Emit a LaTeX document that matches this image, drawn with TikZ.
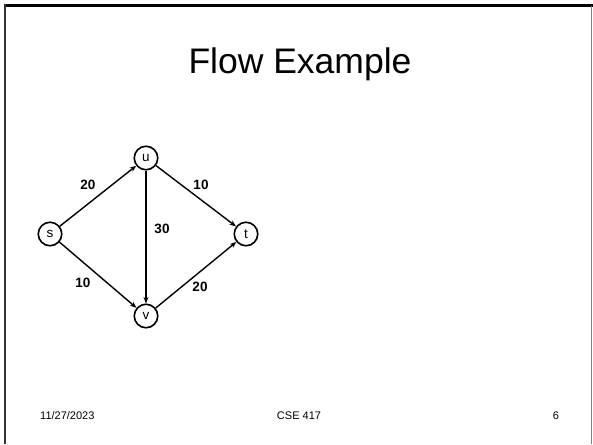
\documentclass[tikz,border=0pt]{standalone}
\usepackage{fontspec}
\setmainfont{Liberation Sans}
\usetikzlibrary{arrows.meta}
\begin{document}
\begin{tikzpicture}[x=1pt,y=-1pt,
  vert/.style={circle,draw,line width=1.6pt,minimum size=23.5pt,inner sep=0pt,font=\fontsize{13.5}{14}\selectfont},
  edge/.style={line width=1.4pt,-{Stealth[length=6.5pt,width=5pt]}},
  elabel/.style={inner sep=0pt,font=\fontsize{13.5}{14}\selectfont\bfseries},
  foot/.style={inner sep=0pt,font=\fontsize{11}{12}\selectfont}]
\useasboundingbox (0,0) rectangle (593,444);
% slide frame
\draw[line width=2.6pt] (4,5.3) -- (593,5.3);
\draw[line width=2.2pt, black!80] (5.2,4) -- (5.2,444);
\draw[line width=1pt, gray] (591.8,6.5) -- (591.8,444);
% title
\node[anchor=base,inner sep=0pt,font=\fontsize{35.5}{38}\selectfont] (title) at (300,73) {Flow Example};
% graph
\node[vert] (s) at (50,234) {s};
\node[vert] (u) at (146,158) {u};
\node[vert] (v) at (146,316) {v};
\node[vert] (t) at (246,234) {t};
\draw[edge] (s) -- (u);
\draw[edge] (s) -- (v);
\draw[edge] (u) -- (t);
\draw[edge] (v) -- (t);
\draw[edge] (u) -- (v);
\node[elabel] (l1) at (88,185) {20};
\node[elabel] (l2) at (201,185) {10};
\node[elabel] (l3) at (162,229) {30};
\node[elabel] (l4) at (83,283) {10};
\node[elabel] (l5) at (200,287) {20};
% footer
\node[foot,anchor=west] (date) at (40,416) {11/27/2023};
\node[foot] (course) at (299,416) {CSE 417};
\node[foot] (page) at (556,416) {6};
\end{tikzpicture}
\end{document}
